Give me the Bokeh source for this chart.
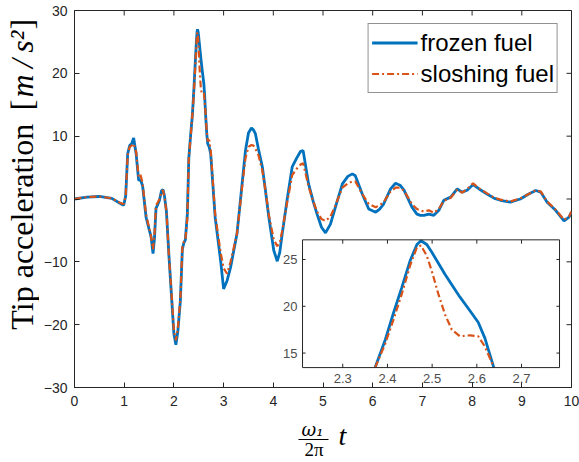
import math
from bokeh.plotting import figure
from bokeh.layouts import row, column
from bokeh.models import Range1d, Legend, LegendItem, FixedTicker
from bokeh.core.properties import value
from bokeh.embed import file_html
from bokeh.resources import INLINE

# ---------------- data ----------------
t = [0, 0.25, 0.5, 0.75, 0.94, 0.99, 1.03, 1.07, 1.11, 1.15, 1.19, 1.24, 1.29, 1.33,
     1.37, 1.44, 1.50, 1.54, 1.58, 1.61, 1.64, 1.68, 1.71, 1.75, 1.78, 1.81, 1.85,
     1.90, 1.96, 2.00, 2.04, 2.08, 2.13, 2.17, 2.20, 2.23, 2.27,
     2.30, 2.335, 2.372, 2.395, 2.413, 2.432, 2.451, 2.466, 2.475, 2.488, 2.499,
     2.514, 2.529, 2.544, 2.562, 2.585, 2.603, 2.618, 2.637, 2.66, 2.68, 2.71, 2.74,
     2.83, 2.94, 3.00, 3.07, 3.14, 3.27, 3.36, 3.44, 3.50, 3.56, 3.60, 3.64, 3.70,
     3.78, 3.84, 3.91, 4.01, 4.08, 4.13, 4.18, 4.28, 4.38, 4.47, 4.55, 4.60, 4.71,
     4.80, 4.88, 4.97, 5.05, 5.15, 5.25, 5.39, 5.50, 5.59, 5.65, 5.79, 5.92, 6.06,
     6.14, 6.22, 6.36, 6.46, 6.55, 6.63, 6.79, 6.89, 6.96, 7.03, 7.13, 7.23, 7.33,
     7.43, 7.57, 7.70, 7.80, 7.90, 8.02, 8.14, 8.30, 8.45, 8.57, 8.77, 8.97, 9.14,
     9.28, 9.38, 9.51, 9.68, 9.85, 9.95, 10.0]

frozen = [0, 0.3, 0.4, 0.1, -0.8, -1.0, 0.5, 7.2, 8.5, 8.8, 9.7, 7.2, 3.0, 3.0,
          2.1, -2.9, -4.8, -6.0, -8.7, -6.2, -1.5, -0.8, -0.2, 1.3, 1.5, 0.5, -2.0,
          -9.0, -16.5, -21.5, -23.2, -21.0, -16.2, -8.0, -7.0, -6.5, -2.5,
          6.5, 10.0, 13.4, 16.4, 19.2, 22.0, 24.9, 26.6, 27.0, 26.6, 25.8,
          24.6, 23.4, 22.3, 21.0, 19.5, 18.3, 16.6, 13.6, 10.5, 8.8, 8.3, 7.2,
          -2.9, -9.8, -14.3, -13.0, -10.9, -5.5, 1.5, 7.7, 10.5, 11.3, 11.0, 10.4, 8.0,
          5.1, 1.5, -2.9, -8.2, -9.9, -8.5, -5.5, 0.0, 5.1, 6.5, 7.6, 7.7, 2.4,
          -0.3, -2.4, -4.5, -5.4, -4.0, -1.3, 2.4, 3.6, 4.0, 3.7, 0.8, -1.6, -2.1,
          -1.6, -0.8, 1.6, 2.5, 2.2, 1.4, -1.3, -2.4, -2.6, -2.6, -2.4, -2.6, -1.8,
          -0.2, 0.3, 1.6, 1.1, 1.4, 2.3, 1.6, 0.8, 0.1, -0.2, -0.5, 0.0, 0.8,
          1.35, 1.1, -0.5, -1.8, -3.5, -2.9, -2.1]

sloshing = [0, 0.3, 0.4, 0.1, -0.7, -0.8, 0.5, 7.0, 8.3, 8.5, 8.8, 7.5, 3.5, 3.8,
            2.5, -2.5, -4.5, -6.0, -8.0, -5.5, -1.0, -0.5, 0.0, 1.2, 1.4, 0.3, -2.0,
            -9.0, -16.0, -21.0, -22.5, -20.5, -16.0, -7.7, -6.8, -6.6, -3.0,
            6.3, 9.8, 13.4, 16.0, 18.5, 21.3, 24.4, 26.3, 26.5, 25.4, 23.8,
            21.3, 19.1, 17.5, 16.8, 16.9, 16.8, 15.7, 13.6, 10.8, 9.2, 9.4, 7.8,
            -2.5, -8.5, -11.0, -11.9, -10.0, -5.5, 1.0, 6.5, 8.3, 8.6, 8.5, 8.0, 7.0,
            4.5, 1.5, -2.5, -6.5, -7.5, -7.0, -5.0, -0.5, 3.8, 4.8, 5.5, 5.7, 2.0,
            -0.3, -2.0, -3.2, -3.5, -2.8, -1.0, 1.8, 2.5, 2.8, 2.8, 0.8, -0.8, -1.3,
            -1.0, -0.5, 1.2, 1.8, 1.8, 1.3, -0.8, -1.6, -1.8, -2.0, -1.8, -2.2, -1.6,
            -0.3, 0.2, 1.5, 1.0, 1.6, 2.5, 1.7, 0.9, 0.2, -0.1, -0.4, 0.1, 0.8,
            1.4, 1.2, -0.4, -1.7, -3.3, -2.8, -2.0]

series_labels = ["frozen fuel", "sloshing fuel"]
x_ticks = [0, 1, 2, 3, 4, 5, 6, 7, 8, 9, 10]
y_ticks = [-30, -20, -10, 0, 10, 20, 30]
x_lim = (0, 10)
y_lim = (-30, 30)
inset_x_ticks = [2.3, 2.4, 2.5, 2.6, 2.7]
inset_y_ticks = [15, 20, 25]
inset_x_range = (2.21, 2.785)
inset_y_range = (13.45, 27.1)

# ---------------- styles / layout ----------------
BLUE = "#0072BD"
ORANGE = "#D95319"
AX = "#262626"
TICKFONT = "Liberation Sans"
SERIF = "Liberation Serif"

W, H = 579, 462
YLAB_W = 39          # width of the strip holding the y title
XLAB_H = 47          # height of the strip holding the x title
MAIN_W = W - YLAB_W
MAIN_H = H - XLAB_H
MB_L, MB_R, MB_T, MB_B = 35, 8, 10, 28
TICK_PX = 5

p = figure(width=MAIN_W, height=MAIN_H, x_range=Range1d(*x_lim), y_range=Range1d(*y_lim),
           output_backend="svg", toolbar_location=None,
           min_border_left=MB_L, min_border_right=MB_R,
           min_border_top=MB_T, min_border_bottom=MB_B)
p.grid.visible = False
p.outline_line_color = AX
p.outline_line_width = 1
p.background_fill_color = "white"
p.border_fill_color = "white"

r_frozen = p.line(t, frozen, line_color=BLUE, line_width=2.8)
r_slosh = p.line(t, sloshing, line_color=ORANGE, line_width=2.2, line_dash="7 3 2 3")

for ax, ticks in ((p.xaxis[0], x_ticks), (p.yaxis[0], y_ticks)):
    ax.ticker = FixedTicker(ticks=ticks)
    ax.major_tick_in = TICK_PX
    ax.major_tick_out = 0
    ax.minor_tick_line_color = None
    ax.axis_line_color = AX
    ax.major_tick_line_color = AX
    ax.major_label_text_font = TICKFONT
    ax.major_label_text_font_size = "14px"
    ax.major_label_text_color = AX
p.xaxis[0].major_label_standoff = 8
p.yaxis[0].major_label_standoff = 7

# inward ticks on the top and right edges of the box (MATLAB "box on")
frame_w = MAIN_W - MB_L - MB_R
frame_h = MAIN_H - MB_T - MB_B
dx_tick = TICK_PX * (x_lim[1] - x_lim[0]) / frame_w
dy_tick = TICK_PX * (y_lim[1] - y_lim[0]) / frame_h
p.segment(x0=x_ticks, y0=[y_lim[1]] * len(x_ticks), x1=x_ticks,
          y1=[y_lim[1] - dy_tick] * len(x_ticks), line_color=AX, line_width=1)
p.segment(x0=[x_lim[1]] * len(y_ticks), y0=y_ticks, x1=[x_lim[1] - dx_tick] * len(y_ticks),
          y1=y_ticks, line_color=AX, line_width=1)

legend = Legend(items=[LegendItem(label=series_labels[0], renderers=[r_frozen]),
                       LegendItem(label=series_labels[1], renderers=[r_slosh])],
                location="top_right")
legend.margin = 13
legend.padding = 3
legend.spacing = 0
legend.glyph_width = 46
legend.glyph_height = 31
legend.label_height = 31
legend.label_standoff = 3
legend.label_text_font = TICKFONT
legend.label_text_font_size = "24px"
legend.label_text_color = "black"
legend.border_line_color = AX
legend.border_line_width = 1
legend.background_fill_color = "white"
legend.background_fill_alpha = 1
p.add_layout(legend)

# ---------------- inset (zoom of the peak) ----------------
x0, x1 = inset_x_range
y0, y1 = inset_y_range
sub = p.subplot(x_source=Range1d(x0, x1), y_source=Range1d(y0, y1),
                x_target=Range1d(4.588, 9.759), y_target=Range1d(-26.83, -6.50))
sub.quad(left=[x0], right=[x1], bottom=[y0], top=[y1], fill_color="white", line_color=None)


def clip_poly(xs, ys, xa, xb, ya, yb):
    ox, oy = [], []
    last = None
    for i in range(len(xs) - 1):
        ax_, ay_, bx_, by_ = xs[i], ys[i], xs[i + 1], ys[i + 1]
        ddx, ddy = bx_ - ax_, by_ - ay_
        u0, u1 = 0.0, 1.0
        ok = True
        for pp, qq in ((-ddx, ax_ - xa), (ddx, xb - ax_), (-ddy, ay_ - ya), (ddy, yb - ay_)):
            if pp == 0:
                if qq < 0:
                    ok = False
                    break
            else:
                r = qq / pp
                if pp < 0:
                    u0 = max(u0, r)
                else:
                    u1 = min(u1, r)
        if not ok or u0 > u1:
            last = None
            continue
        c0 = (ax_ + u0 * ddx, ay_ + u0 * ddy)
        c1 = (ax_ + u1 * ddx, ay_ + u1 * ddy)
        if last is not None and abs(last[0] - c0[0]) < 1e-12 and abs(last[1] - c0[1]) < 1e-12:
            ox.append(c1[0]); oy.append(c1[1])
        else:
            if ox:
                ox.append(float("nan")); oy.append(float("nan"))
            ox += [c0[0], c1[0]]; oy += [c0[1], c1[1]]
        last = c1
    return ox, oy


fx, fy = clip_poly(t, frozen, x0, x1, y0, y1)
sx, sy = clip_poly(t, sloshing, x0, x1, y0, y1)
sub.line(fx, fy, line_color=BLUE, line_width=2.8)
sub.line(sx, sy, line_color=ORANGE, line_width=2.2, line_dash="7 3 2 3")

sub.quad(left=[x0], right=[x1], bottom=[y0], top=[y1],
         fill_color=None, line_color=AX, line_width=1)
tl_y = 0.03 * (y1 - y0)
tl_x = 0.012 * (x1 - x0)
n = len(inset_x_ticks)
m = len(inset_y_ticks)
sub.segment(x0=inset_x_ticks, y0=[y0] * n, x1=inset_x_ticks, y1=[y0 + tl_y] * n, line_color=AX)
sub.segment(x0=inset_x_ticks, y0=[y1] * n, x1=inset_x_ticks, y1=[y1 - tl_y] * n, line_color=AX)
sub.segment(x0=[x0] * m, y0=inset_y_ticks, x1=[x0 + tl_x] * m, y1=inset_y_ticks, line_color=AX)
sub.segment(x0=[x1] * m, y0=inset_y_ticks, x1=[x1 - tl_x] * m, y1=inset_y_ticks, line_color=AX)
sub.text(x=inset_x_ticks, y=[y0] * n, text=[f"{v:g}" for v in inset_x_ticks],
         y_offset=6, text_align="center", text_baseline="top",
         text_font=value(TICKFONT), text_font_size="13px", text_color="#4d4d4d")
sub.text(x=[x0] * m, y=inset_y_ticks, text=[f"{v:g}" for v in inset_y_ticks],
         x_offset=-5, text_align="right", text_baseline="middle",
         text_font=value(TICKFONT), text_font_size="13px", text_color="#4d4d4d")


# ---------------- axis titles (own strips, pixel coordinates) ----------------
def strip(w, h):
    f = figure(width=w, height=h, x_range=Range1d(0, w), y_range=Range1d(0, h),
               output_backend="svg", toolbar_location=None,
               x_axis_location=None, y_axis_location=None, min_border=0)
    f.grid.visible = False
    f.outline_line_color = None
    f.background_fill_color = "white"
    f.border_fill_color = "white"
    return f


YT_X = 21
py = strip(YLAB_W, MAIN_H)
py.text(x=[YT_X], y=[MAIN_H - 238], text=["Tip acceleration"], angle=math.pi / 2,
        text_align="center", text_baseline="middle",
        text_font=value(SERIF), text_font_size="32px", text_color="black")
py.text(x=[YT_X, YT_X], y=[MAIN_H - 104, MAIN_H - 15], text=["[", "]"], angle=math.pi / 2,
        text_align="center", text_baseline="middle",
        text_font=value(SERIF), text_font_size="32px", text_color="black")
py.text(x=[YT_X], y=[MAIN_H - 59], text=["m\u2009/\u2009s²"], angle=math.pi / 2,
        text_align="center", text_baseline="middle", text_font_style="italic",
        text_font=value(SERIF), text_font_size="32px", text_color="black")

px = strip(W, XLAB_H)
px.text(x=[312], y=[H - 429], text=["ω₁"], text_align="center", text_baseline="middle",
        text_font=value("DejaVu Serif"), text_font_style="italic",
        text_font_size="18px", text_color="black")
px.segment(x0=[298], y0=[H - 439], x1=[328], y1=[H - 439], line_color="black", line_width=1.2)
px.text(x=[313.5], y=[H - 449], text=["2π"], text_align="center", text_baseline="middle",
        text_font=value(SERIF), text_font_size="19px", text_color="black")
px.text(x=[342], y=[H - 435], text=["t"], text_align="center", text_baseline="middle",
        text_font=value(SERIF), text_font_style="italic",
        text_font_size="28px", text_color="black")

layout = column(row(py, p, spacing=0), px, spacing=0)
open("out.html", "w").write(file_html(layout, INLINE))
